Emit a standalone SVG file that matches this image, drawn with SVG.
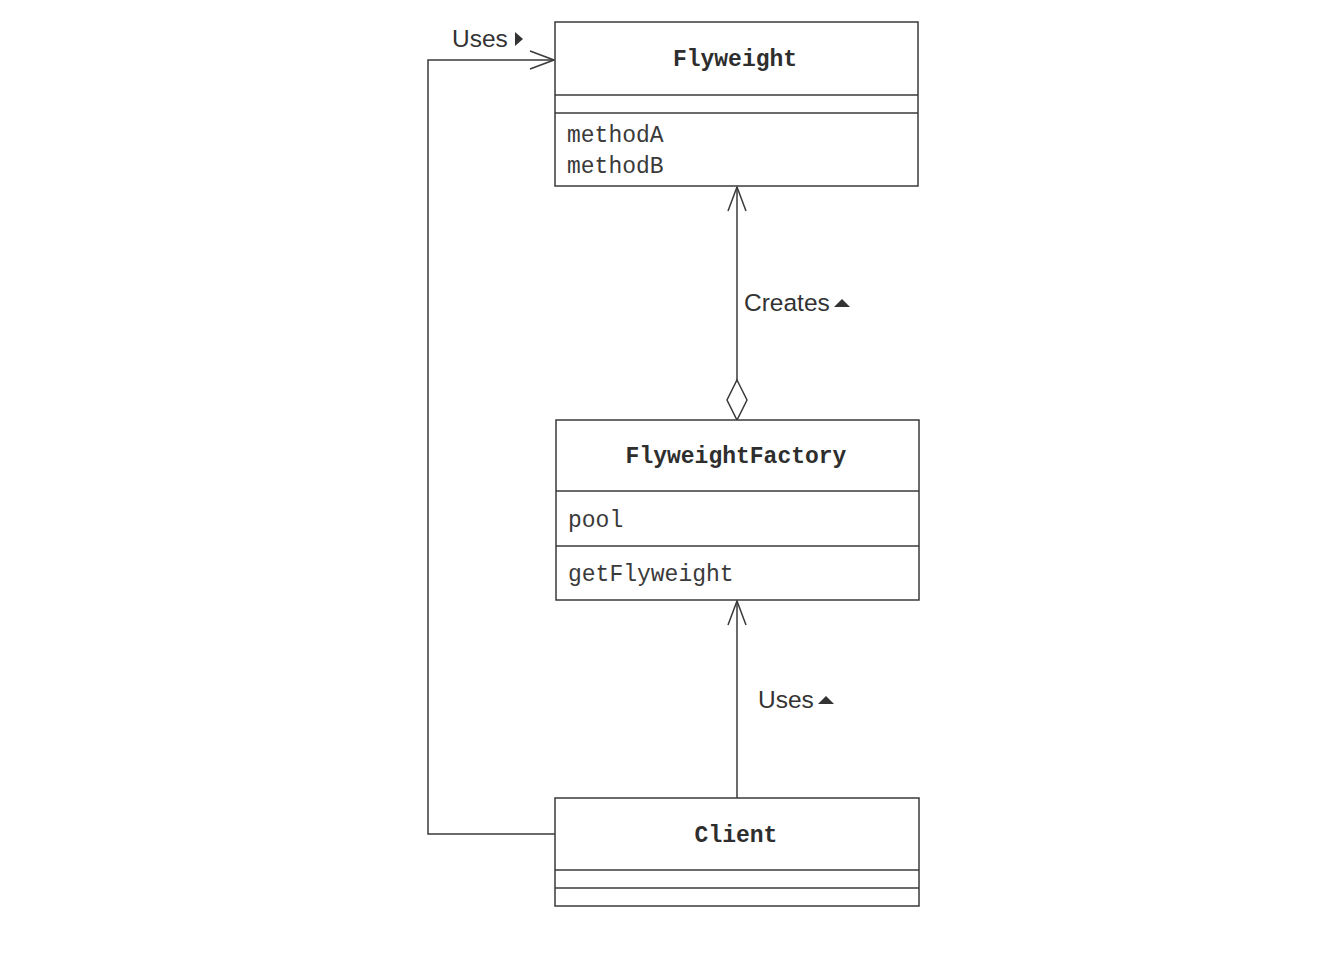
<svg xmlns="http://www.w3.org/2000/svg" width="1335" height="969" viewBox="0 0 1335 969">
  <style>
    .box { fill: #fff; stroke: #3a3a3a; stroke-width: 1.5; }
    .sep { stroke: #3a3a3a; stroke-width: 1.5; }
    .title { font-family: "Liberation Mono", "Courier New", monospace; font-weight: bold; font-size: 23px; fill: #2e2e2e; text-anchor: middle; }
    .member { font-family: "Liberation Mono", "Courier New", monospace; font-size: 23px; fill: #3a3a3a; }
    .label { font-family: "Liberation Sans", Arial, sans-serif; font-size: 24.5px; fill: #333; }
    .line { fill: none; stroke: #3a3a3a; stroke-width: 1.5; }
    .tri { fill: #333; }
  </style>
  <defs>
    <marker id="open" viewBox="0 0 26 22" refX="25" refY="11" markerWidth="26" markerHeight="22" markerUnits="userSpaceOnUse" orient="auto">
      <path d="M1,2 L25,11 L1,20" fill="none" stroke="#3a3a3a" stroke-width="1.5"/>
    </marker>
  </defs>
  <rect width="1335" height="969" fill="#fff"/>

  <g id="connectors">
    <!-- Client uses Flyweight -->
    <polyline class="line" points="555,834 428,834 428,60 554,60" marker-end="url(#open)"/>
    <!-- FlyweightFactory creates Flyweight (aggregation) -->
    <line class="line" x1="737" y1="380" x2="737" y2="187" marker-end="url(#open)"/>
    <path class="line" d="M737,380 L747,400 L737,420 L727,400 Z" fill="#fff"/>
    <!-- Client uses FlyweightFactory -->
    <line class="line" x1="737" y1="798" x2="737" y2="601" marker-end="url(#open)"/>
    <text class="label" x="452" y="47">Uses</text>
    <path class="tri" d="M515,32 L523,39 L515,46 Z"/>
    <text class="label" x="744" y="311">Creates</text>
    <path class="tri" d="M834,307 L842,299 L850,307 Z"/>
    <text class="label" x="758" y="708">Uses</text>
    <path class="tri" d="M818,704 L826,696 L834,704 Z"/>
  </g>

  <g id="flyweight">
    <rect class="box" x="555" y="22" width="363" height="164"/>
    <line class="sep" x1="555" y1="95" x2="918" y2="95"/>
    <line class="sep" x1="555" y1="113" x2="918" y2="113"/>
    <text class="title" x="735" y="66">Flyweight</text>
    <text class="member" x="567" y="142">methodA</text>
    <text class="member" x="567" y="173">methodB</text>
  </g>

  <g id="flyweight-factory">
    <rect class="box" x="556" y="420" width="363" height="180"/>
    <line class="sep" x1="556" y1="491" x2="919" y2="491"/>
    <line class="sep" x1="556" y1="546" x2="919" y2="546"/>
    <text class="title" x="736" y="463">FlyweightFactory</text>
    <text class="member" x="568" y="527">pool</text>
    <text class="member" x="568" y="581">getFlyweight</text>
  </g>

  <g id="client">
    <rect class="box" x="555" y="798" width="364" height="108"/>
    <line class="sep" x1="555" y1="870" x2="919" y2="870"/>
    <line class="sep" x1="555" y1="888" x2="919" y2="888"/>
    <text class="title" x="736" y="842">Client</text>
  </g>
</svg>
